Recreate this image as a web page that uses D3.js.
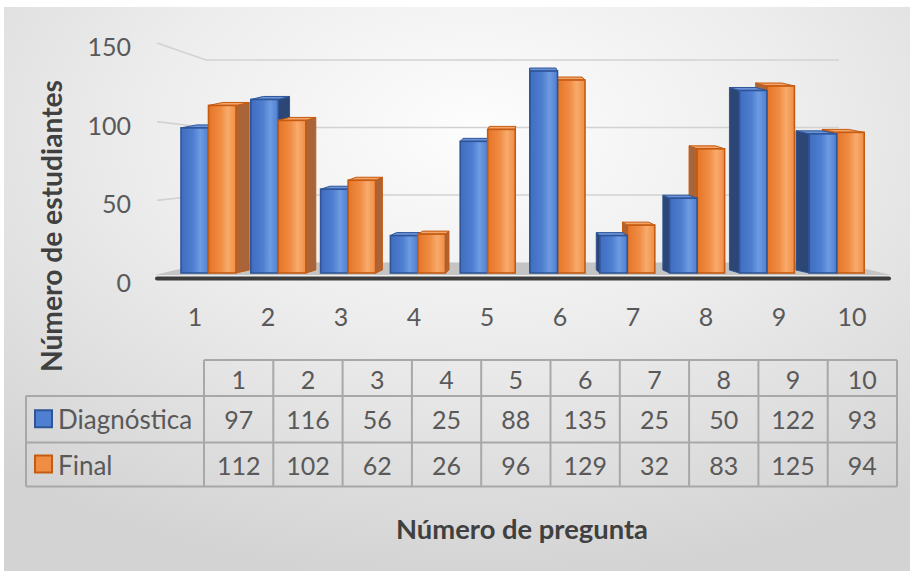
<!DOCTYPE html>
<html>
<head>
<meta charset="utf-8">
<title>Número de estudiantes por pregunta</title>
<script src="https://cdnjs.cloudflare.com/ajax/libs/d3/7.8.5/d3.min.js"></script>
<style>
  body { margin: 0; background: #fff; }
  text { font-family: Lato, 'Open Sans', sans-serif; }
</style>
</head>
<body>
<div id="chart"></div>
<script>
// ---------- data ----------
const categories = ["1", "2", "3", "4", "5", "6", "7", "8", "9", "10"];
const seriesNames = ["Diagnóstica", "Final"];
const diagnostica = [97, 116, 56, 25, 88, 135, 25, 50, 122, 93];
const finalVals = [112, 102, 62, 26, 96, 129, 32, 83, 125, 94];
const yTicks = [0, 50, 100, 150];

const seriesValues = [diagnostica, finalVals];

// ---------- svg ----------
const W = 910, H = 571;
const svg = d3.select("#chart").append("svg")
    .attr("width", W)
    .attr("height", H);

const defs = svg.append("defs");

const bg = defs.append("radialGradient").attr("id", "bg")
    .attr("cx", "52%").attr("cy", "22%").attr("r", "80%");
bg.append("stop").attr("offset", "0%").attr("stop-color", "#fdfdfd");
bg.append("stop").attr("offset", "45%").attr("stop-color", "#ededed");
bg.append("stop").attr("offset", "100%").attr("stop-color", "#d3d3d3");

// colours per series: front gradient, outline, side, top
const palette = [
    { dark: "#3f6cc0", light: "#6e9be2", mid: "#4f7fd0", line: "#2f5597", side: "#2c4675", top: "#6a93da" },
    { dark: "#e57526", light: "#f8ab6c", mid: "#f08d45", line: "#c55a11", side: "#a9643a", top: "#f4a466" }
];
palette.forEach(function (p, i) {
    const g = defs.append("linearGradient").attr("id", "front" + i)
        .attr("x1", "0%").attr("x2", "100%").attr("y1", "0%").attr("y2", "0%");
    g.append("stop").attr("offset", "0%").attr("stop-color", p.dark);
    g.append("stop").attr("offset", "45%").attr("stop-color", p.mid);
    g.append("stop").attr("offset", "70%").attr("stop-color", p.light);
    g.append("stop").attr("offset", "100%").attr("stop-color", p.mid);
});

svg.append("rect")
    .attr("x", 4).attr("y", 7)
    .attr("width", W - 4).attr("height", H - 7)
    .attr("fill", "url(#bg)");

// ---------- scales (3D-ish layout) ----------
const vx = 523;          // vanishing x for side faces
const depthK = 0.046;    // side depth per px of distance from vx
const depthDy = -3;      // top face lift

const yFront = d3.scaleLinear().domain([0, 150]).range([279, 43]);   // axis labels plane
const yWall = d3.scaleLinear().domain([0, 150]).range([262.5, 60]);  // back wall
const yBar = d3.scaleLinear().domain([0, 150]).range([273, 48.6]);   // bar fronts

const wallFrontX = 157, wallBackX = 206, wallRightX = 839;

const xBar = d3.scaleBand()
    .domain(categories)
    .range([173.6, 871.6])
    .paddingInner(0.212)
    .paddingOuter(0.106);

const xSub = d3.scaleBand()
    .domain(seriesNames)
    .range([0, xBar.bandwidth()]);

const xLabel = d3.scaleBand()
    .domain(categories)
    .range([158.5, 888.5]);

// ---------- gridlines ----------
const grid = svg.append("g")
    .attr("fill", "none")
    .attr("stroke", "#d2d2d2")
    .attr("stroke-width", 1.6);

grid.selectAll("polyline")
    .data(yTicks.filter(d => d > 0))
    .enter()
    .append("polyline")
    .attr("points", d => [
        [wallFrontX, yFront(d)],
        [wallBackX, yWall(d)],
        [wallRightX, yWall(d)]
    ].join(" "));

// ---------- floor ----------
svg.append("polygon")
    .attr("points", [
        [155, 275], [891, 275], [wallRightX, yWall(0)], [wallBackX, yWall(0)]
    ].join(" "))
    .attr("fill", "#c4c4c4");

svg.append("rect")
    .attr("x", 155).attr("y", 276.5)
    .attr("width", 736).attr("height", 4)
    .attr("rx", 2)
    .attr("fill", "#3d3d3d");

// ---------- bars ----------
const bars = [];
categories.forEach(function (c, i) {
    seriesNames.forEach(function (s, j) {
        const x0 = xBar(c) + xSub(s);
        bars.push({ cat: c, s: j, value: seriesValues[j][i], x0: x0, x1: x0 + xSub.bandwidth() });
    });
});
// farthest from the centre first, so nearer bars cover the side faces
bars.sort((a, b) => Math.abs((b.x0 + b.x1) / 2 - vx) - Math.abs((a.x0 + a.x1) / 2 - vx));

const barG = svg.append("g");
bars.forEach(function (d) {
    const p = palette[d.s];
    const yt = yBar(d.value), yb = yBar(0);
    const dx0 = depthK * (vx - d.x0), dx1 = depthK * (vx - d.x1);
    const g = barG.append("g");
    const rightSide = (d.x0 + d.x1) / 2 < vx;
    const sidePts = rightSide
        ? [[d.x1, yt], [d.x1 + dx1, yt + depthDy], [d.x1 + dx1, yb + depthDy], [d.x1, yb]]
        : [[d.x0, yt], [d.x0 + dx0, yt + depthDy], [d.x0 + dx0, yb + depthDy], [d.x0, yb]];
    g.append("polygon")
        .attr("points", sidePts.join(" "))
        .attr("fill", p.side)
        .attr("stroke", p.line)
        .attr("stroke-width", 1);
    g.append("polygon")
        .attr("points", [[d.x0, yt], [d.x1, yt], [d.x1 + dx1, yt + depthDy], [d.x0 + dx0, yt + depthDy]].join(" "))
        .attr("fill", p.top)
        .attr("stroke", p.line)
        .attr("stroke-width", 1);
    g.append("rect")
        .attr("x", d.x0).attr("y", yt)
        .attr("width", d.x1 - d.x0).attr("height", yb - yt)
        .attr("fill", "url(#front" + d.s + ")")
        .attr("stroke", p.line)
        .attr("stroke-width", 1.6);
});

// ---------- axis labels ----------
svg.append("g").selectAll("text")
    .data(yTicks)
    .enter()
    .append("text")
    .attr("x", 131)
    .attr("y", d => yFront(d) + 3)
    .attr("text-anchor", "end")
    .attr("dominant-baseline", "central")
    .attr("font-size", 25)
    .attr("fill", "#595959")
    .text(d => d);

svg.append("g").selectAll("text")
    .data(categories)
    .enter()
    .append("text")
    .attr("x", d => xLabel(d) + xLabel.bandwidth() / 2)
    .attr("y", 316)
    .attr("text-anchor", "middle")
    .attr("dominant-baseline", "central")
    .attr("font-size", 25)
    .attr("fill", "#595959")
    .text(d => d);

// ---------- data table ----------
const xCol = d3.scaleBand().domain(categories).range([204, 897]);
const rowTop = [360, 396, 442.5], rowBottom = [396, 442.5, 486.5];
const tableLeft = 26;
const table = svg.append("g");
const lineStyle = sel => sel.attr("stroke", "#a8a8a8").attr("stroke-width", 2);

// horizontal lines
table.append("line").attr("x1", 204).attr("x2", 897).attr("y1", rowTop[0]).attr("y2", rowTop[0]).call(lineStyle);
rowBottom.forEach(function (y) {
    table.append("line").attr("x1", tableLeft).attr("x2", 897).attr("y1", y).attr("y2", y).call(lineStyle);
});
// vertical lines
table.append("line").attr("x1", tableLeft).attr("x2", tableLeft).attr("y1", rowTop[1]).attr("y2", rowBottom[2]).call(lineStyle);
categories.concat(["end"]).forEach(function (c) {
    const x = c === "end" ? 897 : xCol(c);
    table.append("line").attr("x1", x).attr("x2", x).attr("y1", rowTop[0]).attr("y2", rowBottom[2]).call(lineStyle);
});

// header row
table.selectAll("text.head")
    .data(categories)
    .enter()
    .append("text")
    .attr("class", "head")
    .attr("x", d => xCol(d) + xCol.bandwidth() / 2)
    .attr("y", (rowTop[0] + rowBottom[0]) / 2 + 1)
    .attr("text-anchor", "middle")
    .attr("dominant-baseline", "central")
    .attr("font-size", 25)
    .attr("fill", "#595959")
    .text(d => d);

// value rows
seriesNames.forEach(function (s, j) {
    const yc = (rowTop[j + 1] + rowBottom[j + 1]) / 2;
    table.append("rect")
        .attr("x", 35).attr("y", yc - 9)
        .attr("width", 17).attr("height", 17)
        .attr("fill", palette[j].mid)
        .attr("stroke", palette[j].line)
        .attr("stroke-width", 2);
    table.append("text")
        .attr("x", 58).attr("y", yc)
        .attr("dominant-baseline", "central")
        .attr("font-size", 26)
        .attr("fill", "#595959")
        .text(s);
    table.selectAll("text.v" + j)
        .data(seriesValues[j])
        .enter()
        .append("text")
        .attr("class", "v" + j)
        .attr("x", (d, i) => xCol(categories[i]) + xCol.bandwidth() / 2)
        .attr("y", yc)
        .attr("text-anchor", "middle")
        .attr("dominant-baseline", "central")
        .attr("font-size", 25)
        .attr("fill", "#595959")
        .text(d => d);
});

// ---------- titles ----------
svg.append("text")
    .attr("x", 522).attr("y", 528)
    .attr("text-anchor", "middle")
    .attr("dominant-baseline", "central")
    .attr("font-size", 27)
    .attr("font-weight", "bold")
    .attr("fill", "#404040")
    .attr("textLength", 252)
    .attr("lengthAdjust", "spacingAndGlyphs")
    .text("Número de pregunta");

svg.append("text")
    .attr("transform", "translate(51,226) rotate(-90)")
    .attr("text-anchor", "middle")
    .attr("dominant-baseline", "central")
    .attr("font-size", 28)
    .attr("font-weight", "bold")
    .attr("fill", "#404040")
    .attr("textLength", 292)
    .attr("lengthAdjust", "spacingAndGlyphs")
    .text("Número de estudiantes");
</script>
</body>
</html>
